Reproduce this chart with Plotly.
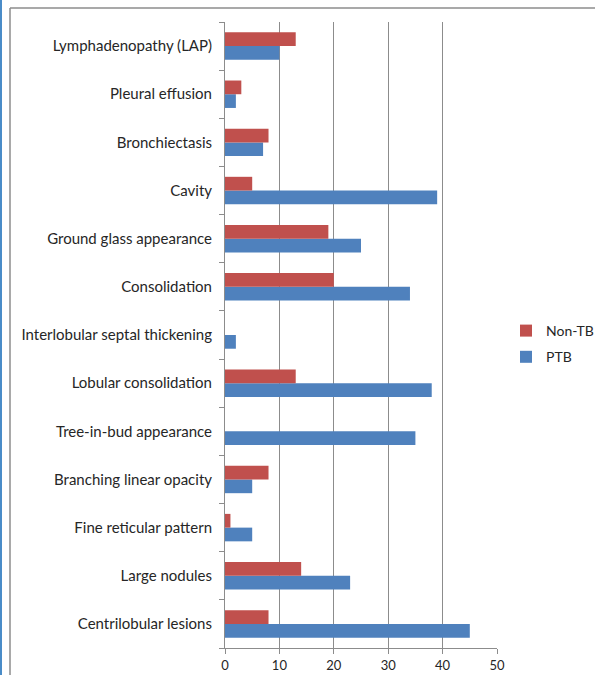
import plotly.graph_objects as go

categories = [
    "Lymphadenopathy (LAP)",
    "Pleural effusion",
    "Bronchiectasis",
    "Cavity",
    "Ground glass appearance",
    "Consolidation",
    "Interlobular septal thickening",
    "Lobular consolidation",
    "Tree-in-bud appearance",
    "Branching linear opacity",
    "Fine reticular pattern",
    "Large nodules",
    "Centrilobular lesions",
]
non_tb = [13, 3, 8, 5, 19, 20, 0, 13, 0, 8, 1, 14, 8]
ptb = [10, 2, 7, 39, 25, 34, 2, 38, 35, 5, 5, 23, 45]
x_ticks = [0, 10, 20, 30, 40, 50]

RED = "#C0504D"
BLUE = "#4F81BD"
FONT = "Lato"

fig = go.Figure()
fig.add_trace(go.Bar(y=categories, x=ptb, name="PTB", orientation="h", legendgroup="ptb",
                     legendrank=2, marker=dict(color=BLUE, line=dict(width=0))))
fig.add_trace(go.Bar(y=categories, x=non_tb, name="Non-TB", orientation="h", legendgroup="nontb",
                     legendrank=1, marker=dict(color=RED, line=dict(width=0))))

W, H = 595, 675
L, R, T, B = 225, 98, 22, 27
pw, ph = W - L - R, H - T - B

def px_x(p):
    return (p - L) / pw

def px_y(p):
    return (H - B - p) / ph

fig.update_layout(
    width=W, height=H,
    margin=dict(l=L, r=R, t=T, b=B, autoexpand=False),
    paper_bgcolor="white", plot_bgcolor="white",
    barmode="group", bargap=0.43, bargroupgap=0,
    font=dict(family=FONT, size=13, color="#262626"),
    legend=dict(traceorder="grouped", x=px_x(506), y=px_y(344), xanchor="left", yanchor="middle",
                font=dict(size=14), itemwidth=30, tracegroupgap=5, bgcolor="rgba(0,0,0,0)"),
    showlegend=True,
    shapes=[
        dict(type="line", xref="paper", yref="paper", x0=px_x(10), x1=px_x(600), y0=px_y(8), y1=px_y(8),
             line=dict(color="#8c8c8c", width=1.5)),
        dict(type="line", xref="paper", yref="paper", x0=px_x(10), x1=px_x(10), y0=px_y(8), y1=px_y(680),
             line=dict(color="#8c8c8c", width=1.5)),
        dict(type="line", xref="paper", yref="paper", x0=px_x(1), x1=px_x(1), y0=px_y(-5), y1=px_y(680),
             line=dict(color="#4a8cc8", width=2)),
    ],
)
fig.update_xaxes(range=[0, 50], tickvals=x_ticks, showgrid=True, gridcolor="#8c8c8c", gridwidth=1,
                 showline=True, linecolor="#8c8c8c", linewidth=1, ticks="outside", ticklen=5,
                 tickcolor="#8c8c8c", zeroline=False, tickfont=dict(size=13))
fig.update_yaxes(categoryorder="array", categoryarray=categories[::-1], showgrid=False,
                 showline=True, linecolor="#8c8c8c", linewidth=1, ticks="outside", ticklen=5,
                 tickcolor="#8c8c8c", tickson="boundaries", ticklabelstandoff=9,
                 tickfont=dict(size=15))

fig.write_html("out.html")
